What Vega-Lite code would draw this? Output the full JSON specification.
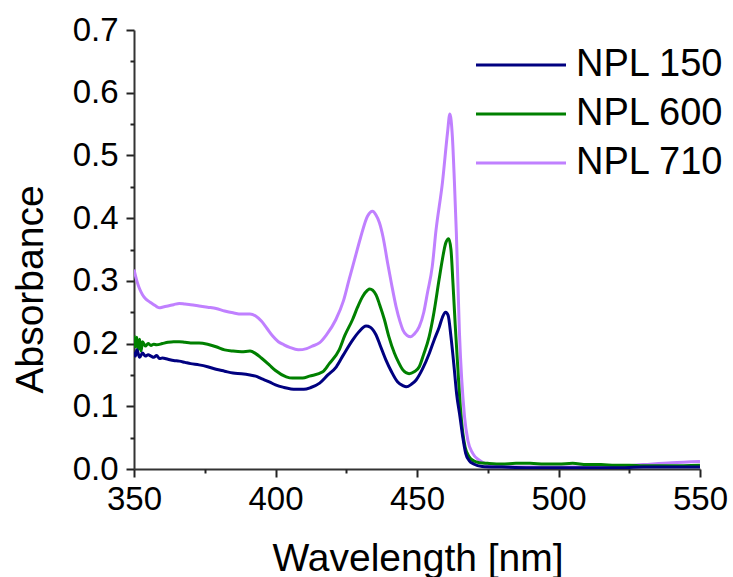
{
"$schema":"https://vega.github.io/schema/vega-lite/v6.json",
"width":566,"height":439,
"autosize":{"type":"none"},
"padding":{"left":134,"top":30,"right":33,"bottom":108},
"background":"white",
"config":{"view":{"stroke":null},"font":"Liberation Sans",
 "axis":{"grid":false,"domainColor":"#333333","domainWidth":2,"tickColor":"#222222","tickWidth":2,"labelColor":"black","titleColor":"black","labelFont":"Liberation Sans","titleFont":"Liberation Sans","titleFontWeight":"normal","labelFontSize":33,"titleFontSize":39}},
"datasets":{"spec":[
{"s":"NPL 710","w":350,"a":0.318},{"s":"NPL 710","w":351,"a":0.3},{"s":"NPL 710","w":352,"a":0.287},{"s":"NPL 710","w":353,"a":0.278},{"s":"NPL 710","w":354,"a":0.272},{"s":"NPL 710","w":355,"a":0.268},{"s":"NPL 710","w":356,"a":0.265},{"s":"NPL 710","w":357,"a":0.262},{"s":"NPL 710","w":358,"a":0.259},{"s":"NPL 710","w":359,"a":0.257},{"s":"NPL 710","w":360,"a":0.258},{"s":"NPL 710","w":362,"a":0.26},{"s":"NPL 710","w":364,"a":0.262},{"s":"NPL 710","w":366,"a":0.264},{"s":"NPL 710","w":368,"a":0.263},{"s":"NPL 710","w":370,"a":0.262},{"s":"NPL 710","w":373,"a":0.26},{"s":"NPL 710","w":376,"a":0.258},{"s":"NPL 710","w":379,"a":0.256},{"s":"NPL 710","w":382,"a":0.252},{"s":"NPL 710","w":385,"a":0.249},{"s":"NPL 710","w":388,"a":0.247},{"s":"NPL 710","w":391,"a":0.247},{"s":"NPL 710","w":393,"a":0.244},{"s":"NPL 710","w":395,"a":0.236},{"s":"NPL 710","w":397,"a":0.224},{"s":"NPL 710","w":399,"a":0.212},{"s":"NPL 710","w":401,"a":0.203},{"s":"NPL 710","w":403,"a":0.198},{"s":"NPL 710","w":405,"a":0.194},{"s":"NPL 710","w":408,"a":0.19},{"s":"NPL 710","w":411,"a":0.192},{"s":"NPL 710","w":413,"a":0.196},{"s":"NPL 710","w":415.5,"a":0.201},{"s":"NPL 710","w":418,"a":0.214},{"s":"NPL 710","w":421.3,"a":0.238},{"s":"NPL 710","w":424,"a":0.268},{"s":"NPL 710","w":426,"a":0.302},{"s":"NPL 710","w":428,"a":0.335},{"s":"NPL 710","w":430,"a":0.368},{"s":"NPL 710","w":432.5,"a":0.403},{"s":"NPL 710","w":434.3,"a":0.411},{"s":"NPL 710","w":435.5,"a":0.405},{"s":"NPL 710","w":436.7,"a":0.393},{"s":"NPL 710","w":438,"a":0.37},{"s":"NPL 710","w":439.6,"a":0.329},{"s":"NPL 710","w":441,"a":0.295},{"s":"NPL 710","w":442.6,"a":0.259},{"s":"NPL 710","w":444,"a":0.235},{"s":"NPL 710","w":445,"a":0.222},{"s":"NPL 710","w":446.5,"a":0.213},{"s":"NPL 710","w":447.8,"a":0.211},{"s":"NPL 710","w":449,"a":0.215},{"s":"NPL 710","w":450.8,"a":0.227},{"s":"NPL 710","w":452.4,"a":0.25},{"s":"NPL 710","w":453.7,"a":0.281},{"s":"NPL 710","w":455.4,"a":0.323},{"s":"NPL 710","w":456.7,"a":0.38},{"s":"NPL 710","w":459,"a":0.457},{"s":"NPL 710","w":460.8,"a":0.537},{"s":"NPL 710","w":461.6,"a":0.566},{"s":"NPL 710","w":462.5,"a":0.53},{"s":"NPL 710","w":463.2,"a":0.46},{"s":"NPL 710","w":463.9,"a":0.377},{"s":"NPL 710","w":465,"a":0.217},{"s":"NPL 710","w":466.8,"a":0.083},{"s":"NPL 710","w":468,"a":0.045},{"s":"NPL 710","w":469.7,"a":0.025},{"s":"NPL 710","w":472,"a":0.014},{"s":"NPL 710","w":474.5,"a":0.008},{"s":"NPL 710","w":477,"a":0.005},{"s":"NPL 710","w":480,"a":0.004},{"s":"NPL 710","w":490,"a":0.003},{"s":"NPL 710","w":500,"a":0.003},{"s":"NPL 710","w":510,"a":0.003},{"s":"NPL 710","w":520,"a":0.004},{"s":"NPL 710","w":530,"a":0.007},{"s":"NPL 710","w":540,"a":0.01},{"s":"NPL 710","w":550,"a":0.012},
{"s":"NPL 600","w":350,"a":0.213},{"s":"NPL 600","w":350.5,"a":0.195},{"s":"NPL 600","w":351,"a":0.21},{"s":"NPL 600","w":351.5,"a":0.19},{"s":"NPL 600","w":352,"a":0.207},{"s":"NPL 600","w":352.5,"a":0.188},{"s":"NPL 600","w":353,"a":0.203},{"s":"NPL 600","w":354,"a":0.196},{"s":"NPL 600","w":355,"a":0.2},{"s":"NPL 600","w":356,"a":0.197},{"s":"NPL 600","w":357,"a":0.199},{"s":"NPL 600","w":358,"a":0.198},{"s":"NPL 600","w":360,"a":0.2},{"s":"NPL 600","w":362,"a":0.202},{"s":"NPL 600","w":364,"a":0.203},{"s":"NPL 600","w":366,"a":0.203},{"s":"NPL 600","w":368,"a":0.202},{"s":"NPL 600","w":370,"a":0.201},{"s":"NPL 600","w":373,"a":0.201},{"s":"NPL 600","w":376,"a":0.199},{"s":"NPL 600","w":379,"a":0.195},{"s":"NPL 600","w":382,"a":0.19},{"s":"NPL 600","w":385,"a":0.188},{"s":"NPL 600","w":388,"a":0.187},{"s":"NPL 600","w":391,"a":0.188},{"s":"NPL 600","w":393,"a":0.184},{"s":"NPL 600","w":395,"a":0.177},{"s":"NPL 600","w":397.8,"a":0.166},{"s":"NPL 600","w":400,"a":0.157},{"s":"NPL 600","w":403.8,"a":0.147},{"s":"NPL 600","w":406,"a":0.145},{"s":"NPL 600","w":409.6,"a":0.145},{"s":"NPL 600","w":412,"a":0.148},{"s":"NPL 600","w":416.7,"a":0.155},{"s":"NPL 600","w":419,"a":0.168},{"s":"NPL 600","w":422.5,"a":0.19},{"s":"NPL 600","w":424.5,"a":0.213},{"s":"NPL 600","w":427.2,"a":0.238},{"s":"NPL 600","w":429,"a":0.258},{"s":"NPL 600","w":430.8,"a":0.275},{"s":"NPL 600","w":432.5,"a":0.285},{"s":"NPL 600","w":433.3,"a":0.287},{"s":"NPL 600","w":435.5,"a":0.278},{"s":"NPL 600","w":436.8,"a":0.262},{"s":"NPL 600","w":438.5,"a":0.238},{"s":"NPL 600","w":440,"a":0.212},{"s":"NPL 600","w":442,"a":0.185},{"s":"NPL 600","w":443.5,"a":0.17},{"s":"NPL 600","w":445,"a":0.158},{"s":"NPL 600","w":447.2,"a":0.152},{"s":"NPL 600","w":449,"a":0.155},{"s":"NPL 600","w":450.8,"a":0.163},{"s":"NPL 600","w":452.3,"a":0.182},{"s":"NPL 600","w":454.3,"a":0.211},{"s":"NPL 600","w":456,"a":0.25},{"s":"NPL 600","w":457.8,"a":0.302},{"s":"NPL 600","w":459,"a":0.335},{"s":"NPL 600","w":460.2,"a":0.361},{"s":"NPL 600","w":461.2,"a":0.367},{"s":"NPL 600","w":462,"a":0.35},{"s":"NPL 600","w":462.7,"a":0.297},{"s":"NPL 600","w":463.5,"a":0.23},{"s":"NPL 600","w":464.4,"a":0.163},{"s":"NPL 600","w":465.3,"a":0.1},{"s":"NPL 600","w":466.2,"a":0.057},{"s":"NPL 600","w":467,"a":0.035},{"s":"NPL 600","w":468.5,"a":0.019},{"s":"NPL 600","w":470,"a":0.013},{"s":"NPL 600","w":472,"a":0.01},{"s":"NPL 600","w":475,"a":0.009},{"s":"NPL 600","w":480,"a":0.008},{"s":"NPL 600","w":485,"a":0.009},{"s":"NPL 600","w":490,"a":0.009},{"s":"NPL 600","w":495,"a":0.008},{"s":"NPL 600","w":500,"a":0.008},{"s":"NPL 600","w":505,"a":0.009},{"s":"NPL 600","w":510,"a":0.007},{"s":"NPL 600","w":515,"a":0.007},{"s":"NPL 600","w":520,"a":0.006},{"s":"NPL 600","w":525,"a":0.006},{"s":"NPL 600","w":530,"a":0.005},{"s":"NPL 600","w":540,"a":0.005},{"s":"NPL 600","w":550,"a":0.006},
{"s":"NPL 150","w":350,"a":0.187},{"s":"NPL 150","w":350.5,"a":0.18},{"s":"NPL 150","w":351,"a":0.19},{"s":"NPL 150","w":352,"a":0.178},{"s":"NPL 150","w":353,"a":0.185},{"s":"NPL 150","w":354,"a":0.18},{"s":"NPL 150","w":355,"a":0.182},{"s":"NPL 150","w":356,"a":0.18},{"s":"NPL 150","w":357,"a":0.178},{"s":"NPL 150","w":358,"a":0.181},{"s":"NPL 150","w":359,"a":0.176},{"s":"NPL 150","w":360,"a":0.177},{"s":"NPL 150","w":362,"a":0.175},{"s":"NPL 150","w":364,"a":0.173},{"s":"NPL 150","w":366,"a":0.172},{"s":"NPL 150","w":368,"a":0.17},{"s":"NPL 150","w":370,"a":0.168},{"s":"NPL 150","w":373,"a":0.166},{"s":"NPL 150","w":376,"a":0.163},{"s":"NPL 150","w":379,"a":0.159},{"s":"NPL 150","w":382,"a":0.156},{"s":"NPL 150","w":385,"a":0.153},{"s":"NPL 150","w":388,"a":0.152},{"s":"NPL 150","w":391,"a":0.15},{"s":"NPL 150","w":393,"a":0.148},{"s":"NPL 150","w":395,"a":0.144},{"s":"NPL 150","w":397.8,"a":0.139},{"s":"NPL 150","w":400,"a":0.134},{"s":"NPL 150","w":403,"a":0.13},{"s":"NPL 150","w":407.2,"a":0.127},{"s":"NPL 150","w":410,"a":0.127},{"s":"NPL 150","w":412.5,"a":0.13},{"s":"NPL 150","w":415.6,"a":0.137},{"s":"NPL 150","w":418.5,"a":0.15},{"s":"NPL 150","w":421.5,"a":0.163},{"s":"NPL 150","w":424,"a":0.182},{"s":"NPL 150","w":427.3,"a":0.206},{"s":"NPL 150","w":429.5,"a":0.219},{"s":"NPL 150","w":432,"a":0.228},{"s":"NPL 150","w":433.5,"a":0.226},{"s":"NPL 150","w":435.5,"a":0.214},{"s":"NPL 150","w":437,"a":0.197},{"s":"NPL 150","w":439,"a":0.174},{"s":"NPL 150","w":441,"a":0.155},{"s":"NPL 150","w":443.1,"a":0.139},{"s":"NPL 150","w":445,"a":0.133},{"s":"NPL 150","w":446.2,"a":0.131},{"s":"NPL 150","w":448,"a":0.135},{"s":"NPL 150","w":449.7,"a":0.142},{"s":"NPL 150","w":452,"a":0.16},{"s":"NPL 150","w":454.4,"a":0.185},{"s":"NPL 150","w":456,"a":0.205},{"s":"NPL 150","w":457.9,"a":0.227},{"s":"NPL 150","w":459,"a":0.242},{"s":"NPL 150","w":460.1,"a":0.25},{"s":"NPL 150","w":461,"a":0.245},{"s":"NPL 150","w":462,"a":0.211},{"s":"NPL 150","w":463.1,"a":0.163},{"s":"NPL 150","w":464,"a":0.12},{"s":"NPL 150","w":465.2,"a":0.083},{"s":"NPL 150","w":466.2,"a":0.05},{"s":"NPL 150","w":467.2,"a":0.025},{"s":"NPL 150","w":468.5,"a":0.013},{"s":"NPL 150","w":470,"a":0.008},{"s":"NPL 150","w":473,"a":0.004},{"s":"NPL 150","w":480,"a":0.003},{"s":"NPL 150","w":490,"a":0.002},{"s":"NPL 150","w":500,"a":0.002},{"s":"NPL 150","w":510,"a":0.002},{"s":"NPL 150","w":520,"a":0.002},{"s":"NPL 150","w":530,"a":0.003},{"s":"NPL 150","w":540,"a":0.003},{"s":"NPL 150","w":550,"a":0.003}
]},
"data":{"name":"spec"},
"resolve":{"axis":{"x":"independent","y":"independent"}},
"layer":[
{"mark":{"type":"line","strokeWidth":3,"interpolate":"monotone","clip":true},
 "encoding":{
  "x":{"field":"w","type":"quantitative","scale":{"domain":[350,550],"nice":false,"zero":false},
   "axis":{"orient":"bottom","values":[350,400,450,500,550],"tickSize":8,"labelPadding":6,"labelFlush":false,"title":"Wavelength [nm]","titleX":283.5,"titleY":101,"titleBaseline":"alphabetic","titleAnchor":"middle"}},
  "y":{"field":"a","type":"quantitative","scale":{"domain":[0,0.7],"nice":false},
   "axis":{"orient":"left","values":[0,0.1,0.2,0.3,0.4,0.5,0.6,0.7],"format":".1f","tickSize":8,"labelPadding":8,"labelFlush":false,"title":"Absorbance","titleX":-92,"titleY":259,"titleAngle":-90,"titleBaseline":"alphabetic","titleAlign":"center"}},
  "color":{"field":"s","type":"nominal","sort":["NPL 150","NPL 600","NPL 710"],
   "scale":{"domain":["NPL 150","NPL 600","NPL 710"],"range":["#000080","#008000","#c080ff"]},
   "legend":{"title":null,"orient":"none","legendX":368,"legendY":16,"padding":0,"labelFontSize":38,"labelFont":"Liberation Sans","labelColor":"black","symbolType":"M-5,0H5","symbolSize":324,"symbolStrokeWidth":3,"labelOffset":36,"rowPadding":11,"symbolFillColor":null}}
 }},
{"mark":{"type":"line","opacity":0},
 "encoding":{
  "x":{"field":"w","type":"quantitative","scale":{"domain":[350,550],"nice":false,"zero":false},
   "axis":{"orient":"bottom","values":[375,425,475,525],"tickSize":4,"labels":false,"domain":false,"title":null}},
  "y":{"field":"a","type":"quantitative","scale":{"domain":[0,0.7],"nice":false},
   "axis":{"orient":"left","values":[0.05,0.15,0.25,0.35,0.45,0.55,0.65],"tickSize":4,"labels":false,"domain":false,"title":null}},
  "detail":{"field":"s"}
 }}
]
}
